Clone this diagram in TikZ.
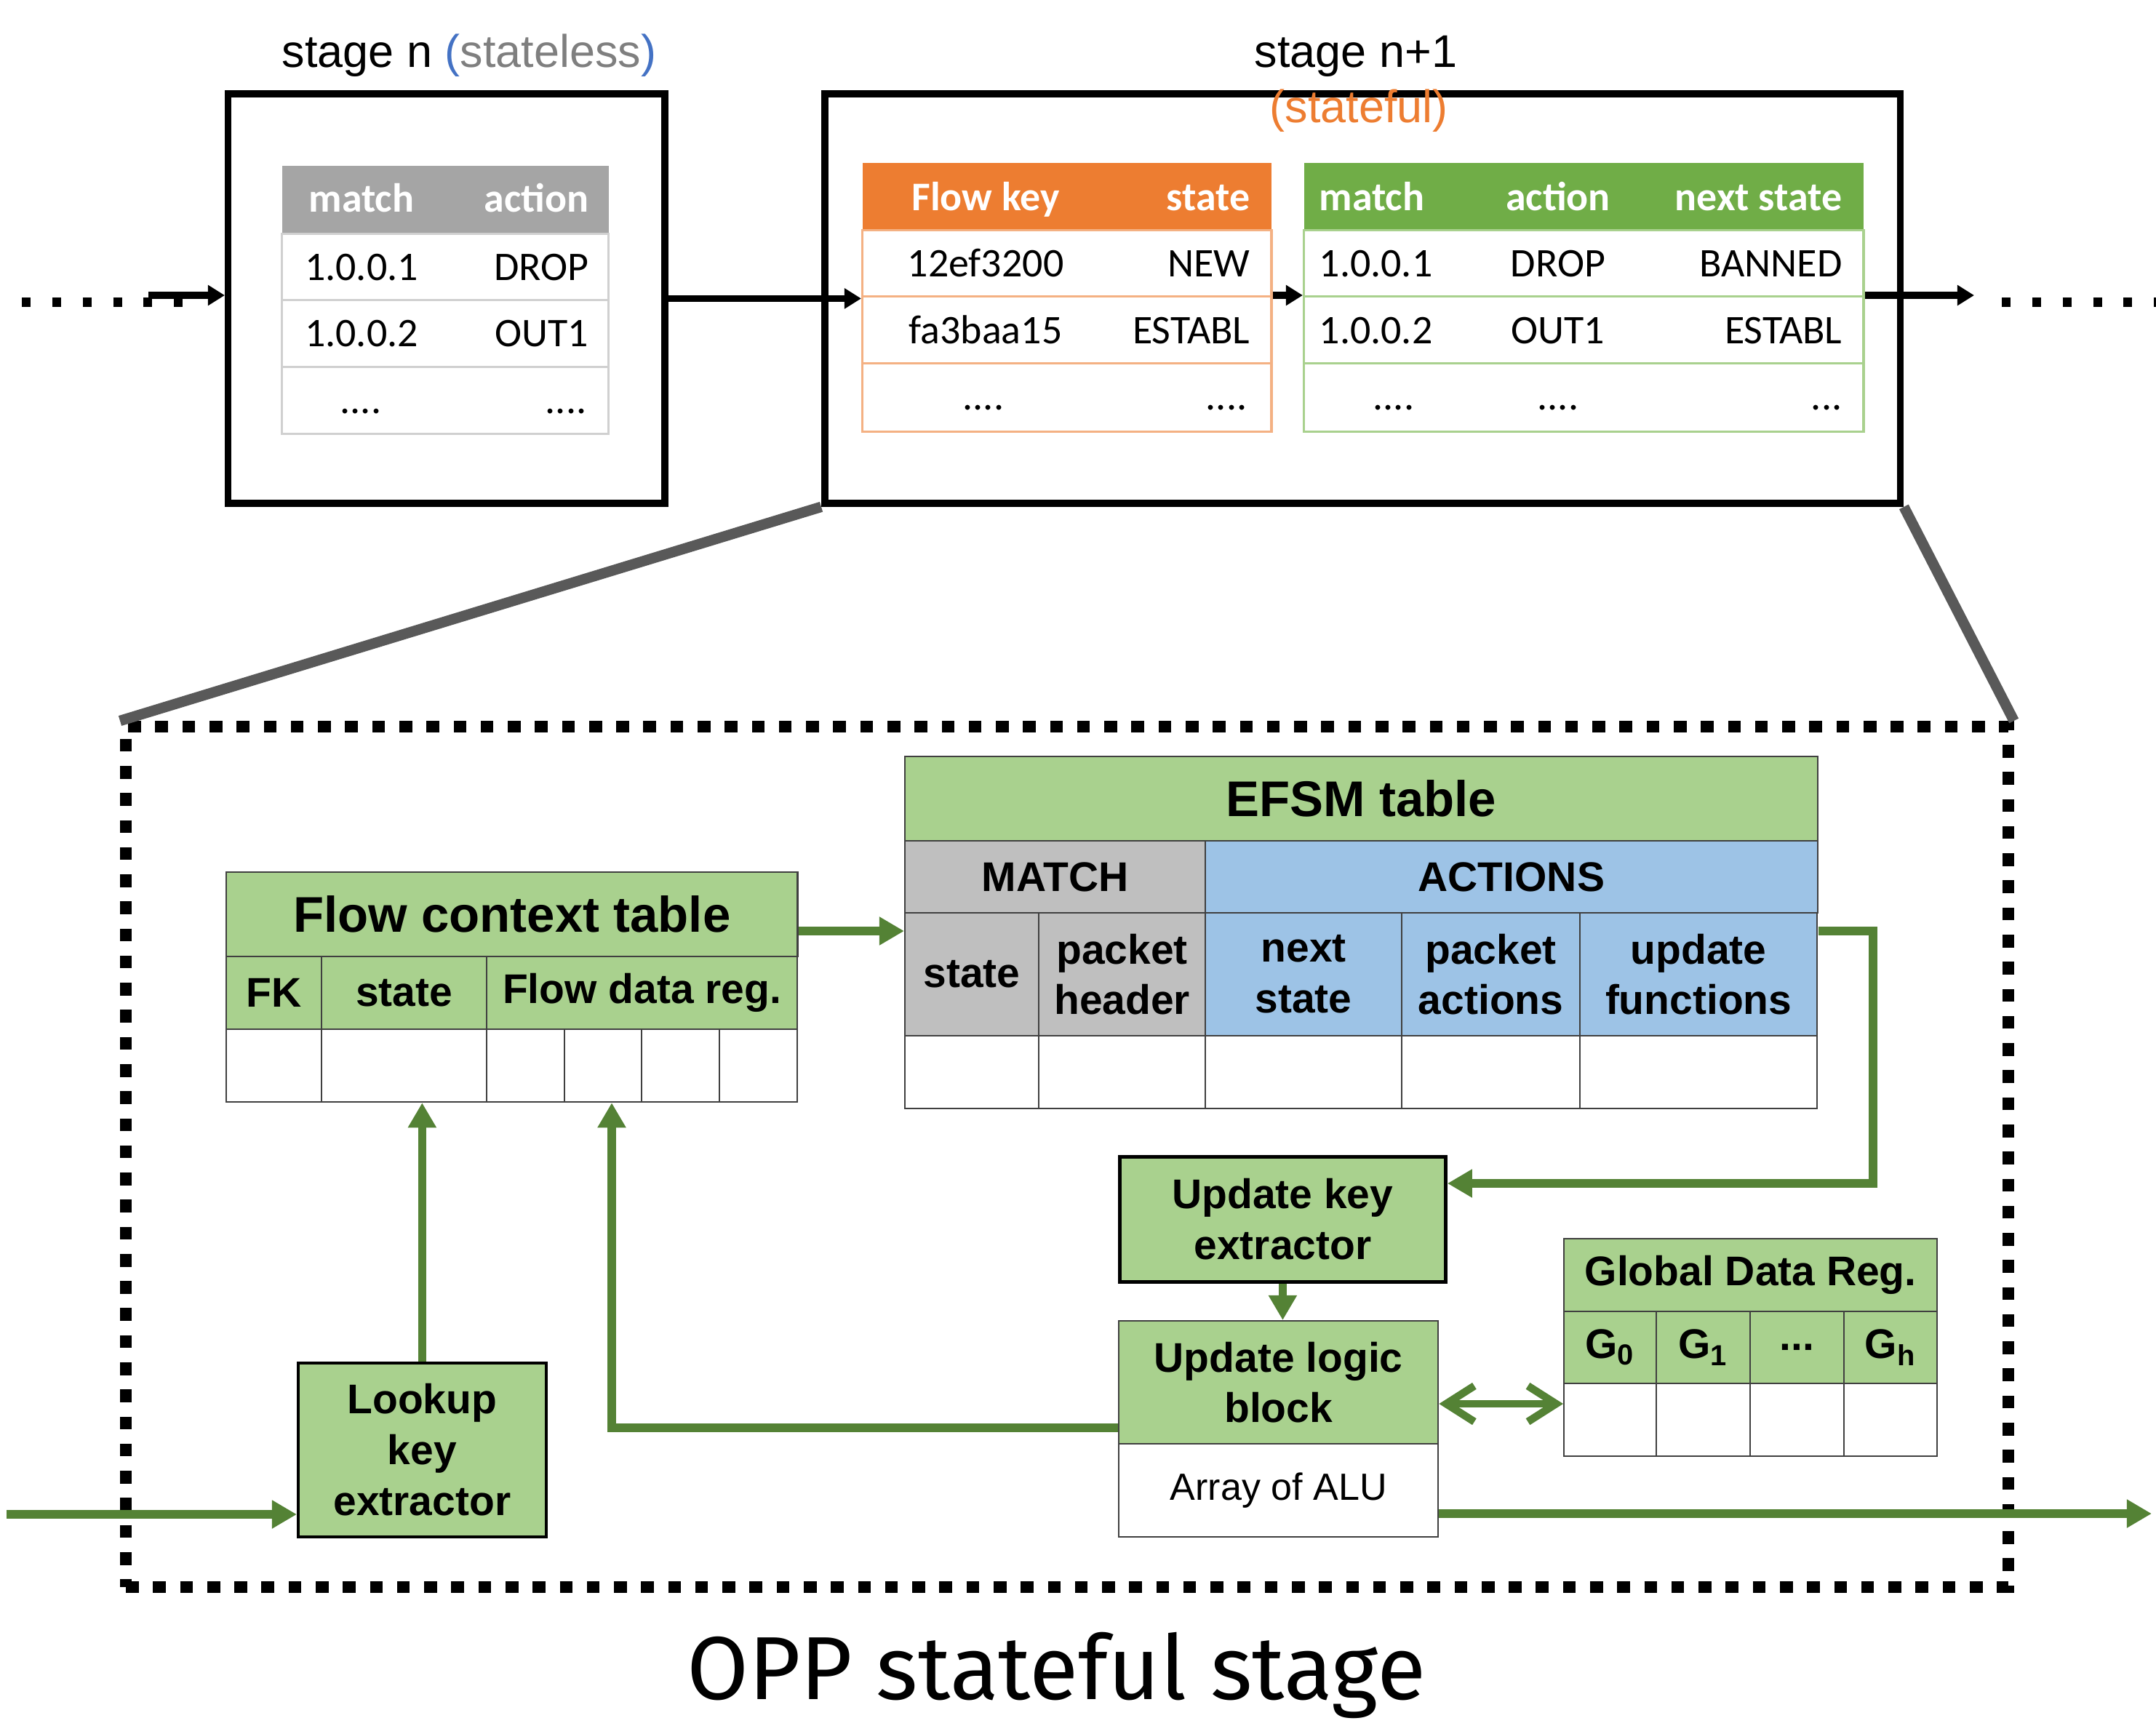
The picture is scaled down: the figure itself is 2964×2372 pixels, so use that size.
\documentclass[tikz,border=0pt]{standalone}
\usepackage{fontspec}
\setmainfont{Liberation Sans}
\newfontfamily\calibri{Carlito}
\newfontfamily\firasans{Fira Sans}
\usetikzlibrary{arrows.meta,positioning,calc}
\definecolor{lgreen}{HTML}{A9D18E}
\definecolor{hgreen}{HTML}{70AD47}
\definecolor{dgreen}{HTML}{548235}
\definecolor{horange}{HTML}{ED7D31}
\definecolor{lorange}{HTML}{F4B183}
\definecolor{hgray}{HTML}{A5A5A5}
\definecolor{lgrayline}{HTML}{D0D0D0}
\definecolor{mgray}{HTML}{BFBFBF}
\definecolor{ablue}{HTML}{9DC3E6}
\definecolor{pblue}{HTML}{4472C4}
\definecolor{sgray}{HTML}{7F7F7F}
\definecolor{zgray}{HTML}{595959}
\definecolor{cellline}{HTML}{404040}

\begin{document}
\begin{tikzpicture}[x=0.01cm,y=-0.01cm,
  lbl/.style={font=\fontsize{17.9}{21}\selectfont,inner sep=0pt,anchor=base},
  stagebox/.style={draw,line width=2.7pt,anchor=north west,inner sep=0pt},
  trow/.style={anchor=north west,inner sep=0pt,line width=0.9pt},
  ttxt/.style={font=\calibri\fontsize{15.9}{19}\selectfont,inner sep=0pt},
  htxt/.style={font=\calibri\bfseries\fontsize{15.9}{19}\selectfont,inner sep=0pt,text=white},
  cell/.style={draw=cellline,line width=0.6pt,anchor=north west,inner sep=0pt,align=center,font=\bfseries\fontsize{16.2}{19.9}\selectfont},
  ttl/.style={cell,fill=lgreen,font=\bfseries\fontsize{19.6}{23}\selectfont},
  blk/.style={cell,draw=black,line width=1pt,fill=lgreen},
  arr/.style={line width=2.6pt,-{Triangle[length=6.6pt,width=7.7pt]}},
  garr/.style={draw=dgreen,line width=3.2pt,-{Triangle[length=9.7pt,width=10.5pt]}},
  dblarr/.style={draw=dgreen,line width=3pt,{Straight Barb[length=11pt,width=14pt]}-{Straight Barb[length=11pt,width=14pt]}},
  dotline/.style={line width=3.7pt,dash pattern=on 3.4pt off 8.5pt},
  zoomline/.style={draw=zgray,line width=4.1pt},
  oppframe/.style={draw,line width=4.6pt,dash pattern=on 5pt off 5.6pt,anchor=north west,inner sep=0pt}
]
\useasboundingbox (0,0) rectangle (2964,2372);

% stage n (stateless)
\node[stagebox,minimum width=60mm,minimum height=56.3mm] (slbox) at (309,124) {};
\node[lbl] (sllbl) at (645,92) {stage n \textcolor{pblue}{(}\textcolor{sgray}{stateless}\textcolor{pblue}{)}};
\node[trow,fill=hgray,minimum width=44.9mm,minimum height=9.4mm] (slh) at (386,226) {};
\node[trow,draw=lgrayline,minimum width=44.9mm,minimum height=9.1mm] (slr1) at (386,320) {};
\node[trow,draw=lgrayline,minimum width=44.9mm,minimum height=9.2mm] (slr2) at (386,411) {};
\node[trow,draw=lgrayline,minimum width=44.9mm,minimum height=9.2mm] (slr3) at (386,503) {};
\node[htxt,anchor=base] (slm) at (497,291) {match};
\node[htxt,anchor=base east] (sla) at (810,291) {action};
\node[ttxt,anchor=base] (slm1) at (497,385) {1.0.0.1};
\node[ttxt,anchor=base east] (sla1) at (810,385) {DROP};
\node[ttxt,anchor=base] (slm2) at (497,476) {1.0.0.2};
\node[ttxt,anchor=base east] (sla2) at (810,476) {OUT1};
\node[ttxt,anchor=base] (slm3) at (496,568) {....};
\node[ttxt,anchor=base east] (sla3) at (807,568) {....};

% stage n+1 (stateful)
\node[stagebox,minimum width=147.8mm,minimum height=56.3mm] (sfbox) at (1129,124) {};
\node[lbl] (sflbl) at (1864,92) {stage n+1};
\node[lbl,text=horange] (sflbl2) at (1868,168) {(stateful)};
% flow key table
\node[trow,fill=horange,minimum width=56.2mm,minimum height=9.3mm] (fkh) at (1184,222) {};
\node[trow,draw=lorange,minimum width=56.2mm,minimum height=9.1mm] (fkr1) at (1184,315) {};
\node[trow,draw=lorange,minimum width=56.2mm,minimum height=9.2mm] (fkr2) at (1184,406) {};
\node[trow,draw=lorange,minimum width=56.2mm,minimum height=9.4mm] (fkr3) at (1184,498) {};
\node[htxt,anchor=base] (fkk) at (1355,289) {Flow key};
\node[htxt,anchor=base east] (fks) at (1719,289) {state};
\node[ttxt,anchor=base] (fkk1) at (1355,380) {12ef3200};
\node[ttxt,anchor=base east] (fks1) at (1719,380) {NEW};
\node[ttxt,anchor=base] (fkk2) at (1355,472) {fa3baa15};
\node[ttxt,anchor=base east] (fks2) at (1719,472) {ESTABL};
\node[ttxt,anchor=base] (fkk3) at (1352,563) {....};
\node[ttxt,anchor=base east] (fks3) at (1715,563) {....};
% match-action table
\node[trow,fill=hgreen,minimum width=76.9mm,minimum height=9.3mm] (mth) at (1791,222) {};
\node[trow,draw=lgreen,minimum width=76.9mm,minimum height=9.1mm] (mtr1) at (1791,315) {};
\node[trow,draw=lgreen,minimum width=76.9mm,minimum height=9.2mm] (mtr2) at (1791,406) {};
\node[trow,draw=lgreen,minimum width=76.9mm,minimum height=9.4mm] (mtr3) at (1791,498) {};
\node[htxt,anchor=base west] (mtm) at (1813,289) {match};
\node[htxt,anchor=base] (mta) at (2142,289) {action};
\node[htxt,anchor=base east] (mtn) at (2533,289) {next state};
\node[ttxt,anchor=base west] (mtm1) at (1813,380) {1.0.0.1};
\node[ttxt,anchor=base] (mta1) at (2142,380) {DROP};
\node[ttxt,anchor=base east] (mtn1) at (2533,380) {BANNED};
\node[ttxt,anchor=base west] (mtm2) at (1813,472) {1.0.0.2};
\node[ttxt,anchor=base] (mta2) at (2142,472) {OUT1};
\node[ttxt,anchor=base east] (mtn2) at (2533,472) {ESTABL};
\node[ttxt,anchor=base] (mtm3) at (1916,563) {....};
\node[ttxt,anchor=base] (mta3) at (2142,563) {....};
\node[ttxt,anchor=base east] (mtn3) at (2533,563) {...};

% pipeline arrows
\coordinate (dotA) at (30,415);
\coordinate (dotB) at (254,415);
\coordinate (inL) at (204,406);
\coordinate (outR) at (2714,406);
\coordinate (dotC) at (2752,415);
\coordinate (dotD) at (2964,415);
\draw[dotline] (dotA) -- (dotB);
\draw[dotline] (dotC) -- (dotD);
\draw[arr] (inL) -- (inL -| slbox.west);
\draw[arr] (slbox.east) -- (slbox.east -| fkr2.west);
\draw[arr] (fkr2.north east) -- (mtr2.north west);
\draw[arr] (mtr2.north east) -- (outR);

% OPP stateful stage
\node[oppframe,minimum width=258.6mm,minimum height=118.2mm] (opp) at (165,991) {};
\draw[zoomline] (sfbox.south west) -- (opp.north west);
\draw[zoomline] (sfbox.south east) -- (opp.north east);

% flow context table
\node[ttl,minimum width=78.5mm,minimum height=11.6mm] (fctT) at (310,1198) {Flow context table};
\node[cell,fill=lgreen,minimum width=13.1mm,minimum height=10mm] (fctFK) at (310,1314) {FK};
\node[cell,fill=lgreen,minimum width=22.7mm,minimum height=10mm] (fctS) at (441,1314) {state};
\node[cell,fill=lgreen,minimum width=42.7mm,minimum height=10mm] (fctD) at (668,1314) {Flow data reg.};
\foreach \x/\w [count=\i] in {310/13.1,441/22.7,668/10.7,775/10.6,881/10.7,988/10.7}
  \node[cell,minimum width=\w mm,minimum height=10mm] (fctE\i) at (\x,1414) {};

% EFSM table
\node[ttl,minimum width=125.4mm,minimum height=11.6mm] (efT) at (1243,1039) {EFSM table};
\node[cell,fill=mgray,minimum width=41.3mm,minimum height=9.9mm] (efM) at (1243,1155) {MATCH};
\node[cell,fill=ablue,minimum width=84.1mm,minimum height=9.9mm] (efA) at (1656,1155) {ACTIONS};
\node[cell,fill=mgray,minimum width=18.4mm,minimum height=16.9mm] (efS) at (1243,1254) {state};
\node[cell,fill=mgray,minimum width=22.9mm,minimum height=16.9mm] (efP) at (1427,1254) {packet\\header};
\node[cell,fill=ablue,minimum width=27mm,minimum height=16.9mm] (efN) at (1656,1254) {next\\state};
\node[cell,fill=ablue,minimum width=24.5mm,minimum height=16.9mm] (efPA) at (1926,1254) {packet\\actions};
\node[cell,fill=ablue,minimum width=32.6mm,minimum height=16.9mm] (efU) at (2171,1254) {update\\functions};
\foreach \x/\w [count=\i] in {1243/18.4,1427/22.9,1656/27,1926/24.5,2171/32.6}
  \node[cell,minimum width=\w mm,minimum height=10mm] (efE\i) at (\x,1423) {};

% extractors and update logic
\node[blk,minimum width=34.1mm,minimum height=23.9mm] (lke) at (408,1872) {Lookup\\key\\extractor};
\node[blk,line width=1.3pt,minimum width=44.8mm,minimum height=17.2mm] (uke) at (1537,1588) {Update key\\extractor};
\node[cell,fill=lgreen,minimum width=43.9mm,minimum height=16.9mm] (ulb) at (1537,1815) {Update logic\\block};
\node[cell,font=\fontsize{14.8}{18}\selectfont,minimum width=43.9mm,minimum height=12.8mm] (alu) at (1537,1984) {Array of ALU};

% global data registers
\node[cell,fill=lgreen,minimum width=51.3mm,minimum height=10mm] (gdrT) at (2149,1702) {Global Data Reg.};
\node[cell,fill=lgreen,minimum width=12.7mm,minimum height=9.9mm] (gdr0) at (2149,1802) {G\textsubscript{0}};
\node[cell,fill=lgreen,minimum width=12.9mm,minimum height=9.9mm] (gdr1) at (2276,1802) {G\textsubscript{1}};
\node[cell,fill=lgreen,minimum width=12.9mm,minimum height=9.9mm] (gdr2) at (2405,1802) {...};
\node[cell,fill=lgreen,minimum width=12.8mm,minimum height=9.9mm] (gdrh) at (2534,1802) {G\textsubscript{h}};
\foreach \x/\w [count=\i] in {2149/12.7,2276/12.9,2405/12.9,2534/12.8}
  \node[cell,minimum width=\w mm,minimum height=10mm] (gdrE\i) at (\x,1901) {};

% green connectors
\coordinate (lvl) at (0,1280);
\coordinate (turn) at (2575,1627);
\coordinate (ret) at (841,1963);
\coordinate (inp) at (9,2082);
\coordinate (dbl) at (0,1930);
\coordinate (outp) at (2958,2081);
\draw[garr] (fctT.east |- lvl) -- (efT.west |- lvl);
\draw[garr] (efT.east |- lvl) -| (turn) -- (turn -| uke.east);
\draw[garr] (lke.north) -- (lke.north |- fctE2.south);
\draw[garr] (ulb.west |- ret) -| (ret |- fctE4.south);
\draw[garr] (inp) -- (inp -| lke.west);
\draw[garr] (uke.south) -- (uke.south |- ulb.north);
\draw[dblarr] (ulb.east |- dbl) -- (gdrT.west |- dbl);
\draw[garr] (alu.east |- outp) -- (outp);

\node[font=\firasans\fontsize{35}{40}\selectfont,anchor=base,inner sep=0pt] (opplbl) at (1452,2336) {OPP stateful stage};
\end{tikzpicture}
\end{document}
